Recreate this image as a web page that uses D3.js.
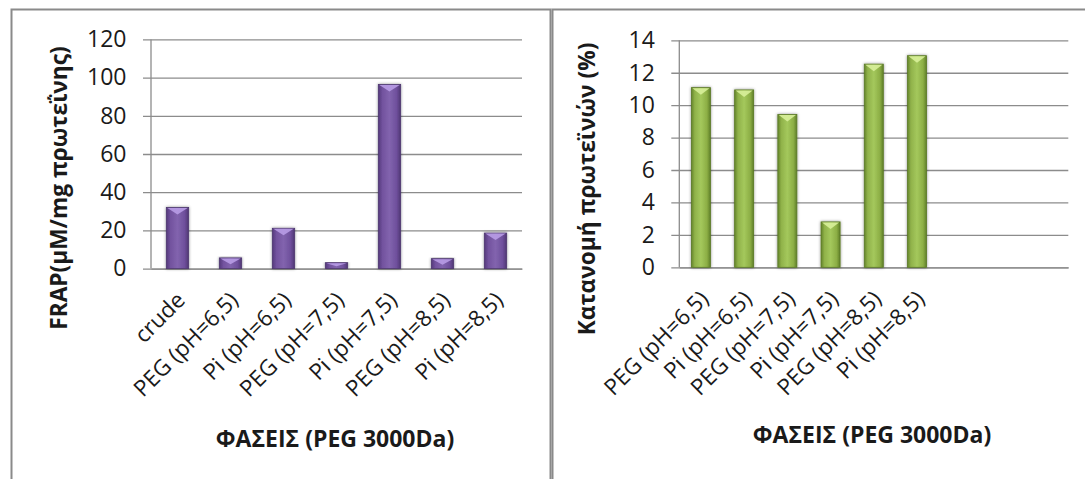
<!DOCTYPE html>
<html>
<head>
<meta charset="utf-8">
<script src="https://cdn.jsdelivr.net/npm/d3@7"></script>
<style>
  html, body { margin: 0; padding: 0; background: #fff; }
  svg { display: block; }
  text { font-family: "Open Sans", "Noto Sans", sans-serif; fill: #1a1a1a; }
</style>
</head>
<body>
<svg id="chart" width="1085" height="479"></svg>
<script>
// FRAP activity per phase (μM / mg protein)
const frapCategories = ["crude", "PEG (pH=6,5)", "Pi (pH=6,5)", "PEG (pH=7,5)", "Pi (pH=7,5)", "PEG (pH=8,5)", "Pi (pH=8,5)"];
const frapValues = [32, 5.6, 21.1, 3.1, 96.4, 5.2, 18.6];
const frapTicks = [0, 20, 40, 60, 80, 100, 120];

// Protein distribution between phases (%); the axis keeps three empty slots
const distCategories = ["PEG (pH=6,5)", "Pi (pH=6,5)", "PEG (pH=7,5)", "Pi (pH=7,5)", "PEG (pH=8,5)", "Pi (pH=8,5)", "", "", ""];
const distValues = [11.08, 10.94, 9.42, 2.8, 12.53, 13.05];
const distTicks = [0, 2, 4, 6, 8, 10, 12, 14];

const xTitle = "ΦΑΣΕΙΣ (PEG 3000Da)";
const frapYTitle = "FRAP(μM/mg πρωτεΐνης)";
const distYTitle = "Κατανομή πρωτεϊνών (%)";

const svg = d3.select("#chart");
const defs = svg.append("defs");

// Cylinder-like shading across each bar
function barGradient(id, stops) {
  const g = defs.append("linearGradient").attr("id", id)
    .attr("x1", "0%").attr("x2", "100%").attr("y1", "0%").attr("y2", "0%");
  stops.forEach(([o, c]) => g.append("stop").attr("offset", o).attr("stop-color", c));
}
barGradient("gPurple", [["0%", "#553a7c"], ["18%", "#72529e"], ["50%", "#8264ae"], ["82%", "#6e4f9c"], ["100%", "#503774"]]);
barGradient("gGreen", [["0%", "#64842a"], ["18%", "#90b24a"], ["50%", "#a4c85c"], ["82%", "#8cae45"], ["100%", "#5f7f28"]]);

const shadow = defs.append("filter").attr("id", "barShadow")
  .attr("x", "-40%").attr("y", "-10%").attr("width", "180%").attr("height", "120%");
shadow.append("feDropShadow").attr("dx", 0).attr("dy", 0).attr("stdDeviation", 1.4)
  .attr("flood-color", "#000").attr("flood-opacity", 0.45);

// Panel frames
svg.append("rect").attr("x", 11.5).attr("y", 9.5).attr("width", 539).attr("height", 500)
  .attr("fill", "none").attr("stroke", "#8a8a8a").attr("stroke-width", 2);
svg.append("rect").attr("x", 552.5).attr("y", 9.5).attr("width", 560).attr("height", 500)
  .attr("fill", "none").attr("stroke", "#8a8a8a").attr("stroke-width", 2);

function drawPanel(opt) {
  const { left, right, top, bottom, domain, labels, values, ticks, maxV,
          fill, bevel, edge, barFrac, yTitle, yTitleX, titleCy, xTitleX, xTitleY } = opt;
  const g = svg.append("g");

  const x = d3.scaleBand().domain(domain).range([left, right]).paddingInner(0).paddingOuter(0);
  const y = d3.scaleLinear().domain([0, maxV]).range([bottom, top]);

  // Value axis with gridlines
  const yAxis = g.append("g").attr("transform", `translate(${left},0)`)
    .call(d3.axisLeft(y).tickValues(ticks).tickSizeOuter(0).tickPadding(18.5));
  yAxis.select(".domain").remove();
  yAxis.selectAll(".tick line").attr("x1", -8).attr("x2", right - left)
    .attr("stroke", "#8c8c8c").attr("stroke-width", 1.3);
  yAxis.selectAll(".tick text").attr("font-size", 23).attr("fill", "#1a1a1a")
    .attr("font-family", "'Open Sans', sans-serif");

  g.append("line").attr("x1", left).attr("x2", left).attr("y1", y(maxV)).attr("y2", bottom)
    .attr("stroke", "#8c8c8c").attr("stroke-width", 1.3);

  // Category axis
  const xAxis = g.append("g").attr("transform", `translate(0,${bottom})`)
    .call(d3.axisBottom(x).tickSize(0).tickFormat(d => labels[d] || ""));
  xAxis.select(".domain").attr("stroke", "#8c8c8c").attr("stroke-width", 1.3);
  xAxis.selectAll(".tick text")
    .attr("font-size", 22.5).attr("fill", "#1a1a1a").attr("font-family", "'Open Sans', sans-serif")
    .attr("text-anchor", "end").attr("dy", 0).attr("y", 0)
    .attr("transform", "translate(9,33) rotate(-45)");

  // Bars
  const bw = x.bandwidth() * barFrac;
  const bars = g.append("g").selectAll("g.bar").data(values).join("g").attr("class", "bar")
    .attr("filter", "url(#barShadow)");
  bars.append("rect")
    .attr("x", (d, i) => x(domain[i]) + (x.bandwidth() - bw) / 2)
    .attr("y", d => y(d))
    .attr("width", bw)
    .attr("height", d => bottom - y(d))
    .attr("fill", fill).attr("stroke", edge).attr("stroke-width", 0.8);
  // Bevelled top face
  bars.append("path")
    .attr("d", (d, i) => {
      const x0 = x(domain[i]) + (x.bandwidth() - bw) / 2, yt = y(d);
      const h = Math.min(7, (bottom - yt) * 0.6);
      return `M${x0 + 1},${yt + 0.5} L${x0 + bw - 1},${yt + 0.5} L${x0 + bw / 2},${yt + h} Z`;
    })
    .attr("fill", bevel).attr("opacity", 0.9);

  // Axis titles
  g.append("text").attr("transform", `translate(${yTitleX},${titleCy}) rotate(-90)`)
    .attr("text-anchor", "middle").attr("font-weight", "bold").attr("font-size", 22.7)
    .attr("dy", "0.35em").text(yTitle);
  g.append("text").attr("x", xTitleX).attr("y", xTitleY)
    .attr("text-anchor", "middle").attr("font-weight", "bold").attr("font-size", 23)
    .text(xTitle);
}

drawPanel({
  left: 151, right: 522, top: 39.4, bottom: 268.6,
  domain: frapCategories, labels: Object.fromEntries(frapCategories.map(c => [c, c])),
  values: frapValues, ticks: frapTicks, maxV: 120,
  fill: "url(#gPurple)", bevel: "#b89ce6", edge: "#4e3870", barFrac: 0.42,
  yTitle: frapYTitle, yTitleX: 59, titleCy: 188, xTitleX: 335, xTitleY: 447
});

drawPanel({
  left: 679.3, right: 1068.3, top: 40.3, bottom: 267.3,
  domain: d3.range(distCategories.length), labels: distCategories,
  values: distValues, ticks: distTicks, maxV: 14,
  fill: "url(#gGreen)", bevel: "#d8f09a", edge: "#5b7a26", barFrac: 0.44,
  yTitle: distYTitle, yTitleX: 587, titleCy: 189, xTitleX: 872, xTitleY: 443
});
</script>
</body>
</html>
